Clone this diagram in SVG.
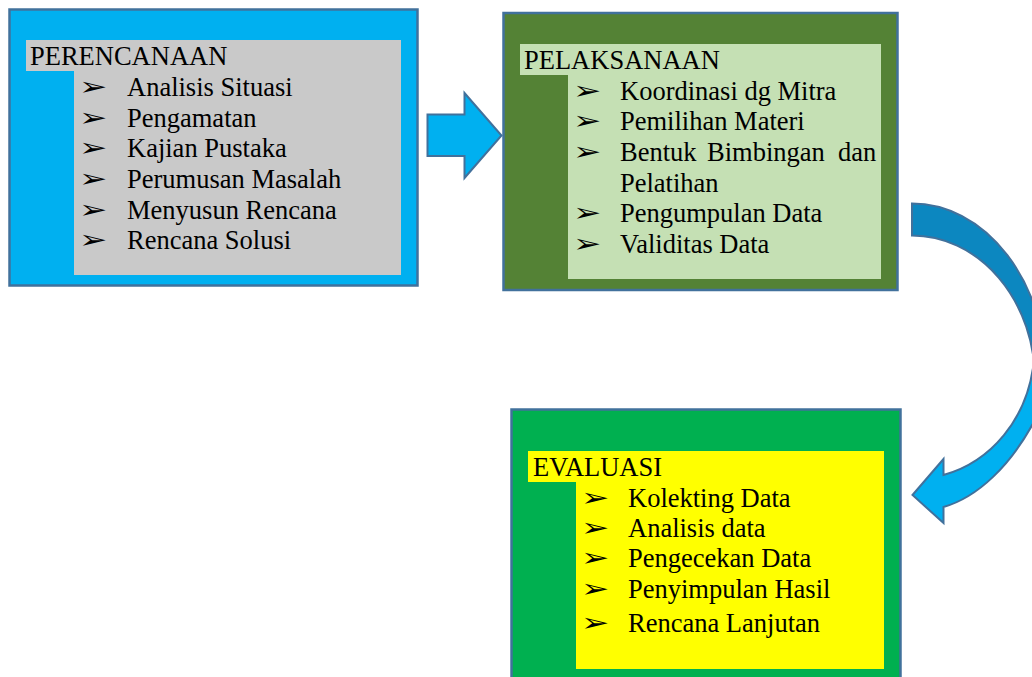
<svg xmlns="http://www.w3.org/2000/svg" width="1032" height="677" viewBox="0 0 1032 677">
<style>
.frame{stroke:#41719C;stroke-width:2.5}
.t{font-family:"Liberation Serif","Times New Roman",serif;font-size:26.5px;fill:#000}
.b{font-family:"DejaVu Sans",sans-serif;font-size:25px;fill:#000}
.arr{stroke:#41719C;stroke-width:2;stroke-linejoin:miter}
</style>
<rect width="1032" height="677" fill="#FFFFFF"/>
<g id="perencanaan">
<rect class="frame" x="9.5" y="9.5" width="408" height="276" fill="#00B0F0"/>
<path d="M26,40 H401 V275 H74 V71 H26 Z" fill="#C9C9C9"/>
<text class="t" x="30" y="65">PERENCANAAN</text>
<text class="b" transform="translate(79,95) scale(1.35,1)">➢</text>
<text class="b" transform="translate(79,126) scale(1.35,1)">➢</text>
<text class="b" transform="translate(79,156) scale(1.35,1)">➢</text>
<text class="b" transform="translate(79,187) scale(1.35,1)">➢</text>
<text class="b" transform="translate(79,218) scale(1.35,1)">➢</text>
<text class="b" transform="translate(79,248) scale(1.35,1)">➢</text>
<text class="t" x="127" y="96">Analisis Situasi</text>
<text class="t" x="127" y="127">Pengamatan</text>
<text class="t" x="127" y="157">Kajian Pustaka</text>
<text class="t" x="127" y="188">Perumusan Masalah</text>
<text class="t" x="127" y="219">Menyusun Rencana</text>
<text class="t" x="127" y="249">Rencana Solusi</text>
</g>
<g id="pelaksanaan">
<rect class="frame" x="503.5" y="13" width="394" height="277" fill="#548235"/>
<path d="M520,44 H881 V279 H568 V75 H520 Z" fill="#C5E0B4"/>
<text class="t" x="524" y="68.5">PELAKSANAAN</text>
<text class="b" transform="translate(573,99) scale(1.35,1)">➢</text>
<text class="b" transform="translate(573,129) scale(1.35,1)">➢</text>
<text class="b" transform="translate(573,160) scale(1.35,1)">➢</text>
<text class="b" transform="translate(573,221) scale(1.35,1)">➢</text>
<text class="b" transform="translate(573,252) scale(1.35,1)">➢</text>
<text class="t" x="620" y="100">Koordinasi dg Mitra</text>
<text class="t" x="620" y="130">Pemilihan Materi</text>
<text class="t" y="161"><tspan x="620">Bentuk</tspan><tspan x="707">Bimbingan</tspan><tspan x="838">dan</tspan></text>
<text class="t" x="620" y="192">Pelatihan</text>
<text class="t" x="620" y="222">Pengumpulan Data</text>
<text class="t" x="620" y="253">Validitas Data</text>
</g>
<g id="evaluasi">
<rect class="frame" x="511.5" y="409.5" width="389" height="280" fill="#00B050"/>
<path d="M528,451 H884 V669 H576 V482 H528 Z" fill="#FFFF00"/>
<text class="t" x="533" y="476">EVALUASI</text>
<text class="b" transform="translate(581,506) scale(1.35,1)">➢</text>
<text class="b" transform="translate(581,536) scale(1.35,1)">➢</text>
<text class="b" transform="translate(581,566) scale(1.35,1)">➢</text>
<text class="b" transform="translate(581,597) scale(1.35,1)">➢</text>
<text class="b" transform="translate(581,631) scale(1.35,1)">➢</text>
<text class="t" x="628" y="507">Kolekting Data</text>
<text class="t" x="628" y="537">Analisis data</text>
<text class="t" x="628" y="567">Pengecekan Data</text>
<text class="t" x="628" y="598">Penyimpulan Hasil</text>
<text class="t" x="628" y="632">Rencana Lanjutan</text>
</g>
<g id="connectors">
<path class="arr" d="M427.5,114.5 H464.5 V93 L501.5,135.5 L464.5,178 V156 H427.5 Z" fill="#00B0F0"/>
<path class="arr" d="M912,203.5 A135,177 0 0 1 1047,380 L1035,380 A123,145 0 0 0 912,235.5 Z" fill="#0C87C0"/>
<path class="arr" d="M1034,360 C1028,420 990,462 943.5,475 L943.5,459 L912.5,495 L943.5,523 L943.5,507 C975,498 1012,468 1040,410 Z" fill="#00B0F0"/>
</g>
</svg>
